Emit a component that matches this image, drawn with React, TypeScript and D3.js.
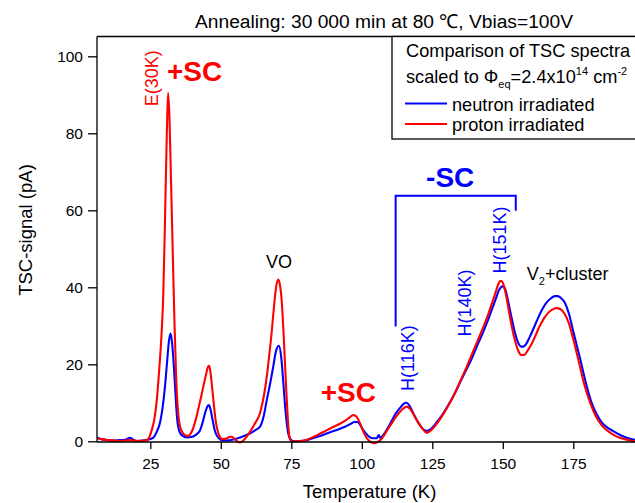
import * as d3 from 'd3'
import { useEffect, useRef } from 'react'

// TSC spectra, [temperature K, signal pA]
const neutron: [number, number][] = [
  [6, 1.0], [8, 0.5], [10, 0.3], [12, 0.2], [14, 0.3], [16, 0.4], [17.8, 0.9], [19, 0.4], [20.5, 0], [22, 0.2],
  [24, 0.4], [26, 0.9], [27.3, 2.5], [28.5, 5], [29.5, 9.5], [30.2, 14.2], [31, 21], [31.6, 26], [32.2, 28],
  [32.8, 25], [33.3, 20], [33.8, 14], [34.5, 6], [35.3, 2.6], [36.5, 1.4], [37.9, 1.0], [39.5, 1.1], [41, 1.6],
  [42.6, 2.8], [43.6, 5], [44.4, 7.3], [45.2, 9], [45.8, 9.4], [46.5, 7.8], [47.1, 5.5], [47.8, 3], [48.5, 1.6],
  [49.5, 0.7], [50.9, 0.2], [52.5, 0.2], [54, 0.4], [56, 0.8], [58, 1.3], [60.4, 2.1], [62, 2.8], [63.9, 3.8],
  [65.2, 6.5], [66.3, 10.7], [67.5, 15], [68.6, 19.4], [69.6, 23.5], [70.6, 24.8], [71.4, 22], [72.2, 15],
  [73, 7.5], [73.9, 2.1], [74.7, 0.6], [75.5, 0.1], [77, 0], [80, 0.2], [83, 0.9], [86, 1.6], [89, 2.4],
  [92, 3.2], [94, 3.8], [96, 4.5], [97.5, 5.0], [98.4, 5.0], [99.3, 4.4], [100.3, 3.2], [101.5, 2.0],
  [102.8, 1.1], [104, 0.8], [105.3, 0.8], [106, 1.6], [106.5, 0.9], [107.5, 1.5], [109, 3.2], [110.5, 5.2],
  [112, 7.2], [113.5, 8.6], [114.8, 9.7], [115.7, 10], [116.6, 9.6], [117.8, 8], [119, 6.2], [120.3, 4.5],
  [121.7, 3.2], [123, 2.7], [124.5, 3.2], [126, 4.4], [127.5, 5.8], [129, 7.4], [131, 9.8], [133, 12.5],
  [135, 15.5], [137, 18.5], [139, 21.5], [141, 25], [143, 28.3], [144.5, 31], [146, 34], [147.5, 37],
  [148.8, 39.5], [150, 40.3], [151, 39.2], [152, 36], [153, 32.5], [154.2, 28.5], [155.5, 25.5], [156.5, 24.6],
  [157.3, 24.6], [158.3, 25.3], [159.5, 27], [161, 29.5], [162.5, 32], [164, 34.3], [165.5, 36], [167, 37.1],
  [168.5, 37.7], [169.5, 37.7], [170.5, 37.3], [172, 36], [173.5, 33], [175, 28.5], [177.4, 21.5],
  [179.7, 14.5], [181.5, 10], [183.3, 7], [185, 5], [187, 3.6], [189, 2.7], [192, 1.5], [194.5, 0.8], [197, 0.4],
]

const proton: [number, number][] = [
  [6, 0.8], [8, 0.5], [10, 0.3], [12, 0.2], [14, 0.1], [16, 0.2], [18, 0.3], [20, 0.1], [22, 0.1], [24, 0.4],
  [25.5, 2.9], [26.5, 6], [27.3, 10.7], [28.2, 19], [29, 28], [29.6, 38], [30.2, 57], [30.8, 78], [31.3, 90.5],
  [31.8, 84], [32.4, 66], [33, 48], [33.6, 30], [34.2, 16], [34.8, 8], [35.5, 4], [36.5, 2.2], [37.5, 1.5],
  [38.3, 1.4], [39.1, 1.8], [40, 3], [41, 5.3], [42, 8.3], [43, 11.5], [43.8, 14.2], [44.8, 17.5], [45.5, 19.4],
  [45.9, 19.6], [46.4, 17.5], [47, 13.5], [47.6, 9], [48.3, 4.8], [49, 2.4], [49.8, 1.0], [50.8, 0.6], [52, 0.7],
  [53, 1.1], [53.9, 1.2], [54.8, 0.7], [55.8, 0], [56.8, -0.3], [58, 0.2], [59.2, 1.2], [60.4, 2.5], [62, 4.5],
  [63.9, 7.3], [65.2, 11.5], [66.3, 16.8], [67.2, 22.5], [68, 28], [68.8, 34.5], [69.6, 40], [70.4, 42],
  [71, 40.5], [71.6, 36.5], [72.2, 29], [72.8, 19.5], [73.4, 10.7], [74, 3.5], [74.5, 0.6], [75.3, -0.1],
  [77, 0], [80, 0.3], [83, 1.2], [86, 2.3], [89, 3.4], [92, 4.5], [94, 5.3], [95.5, 6.1], [97, 6.8], [98, 6.5],
  [99, 5.3], [100, 3.5], [101, 1.8], [102, 0.6], [103.2, -0.2], [104.7, -0.5], [106, 0], [107.3, 0.9],
  [108.7, 2.5], [110, 4], [111.5, 5.7], [113, 7.2], [114.5, 8.4], [115.9, 9], [117, 8.5], [118.2, 7.2],
  [119.5, 5.5], [121, 3.8], [122.3, 2.6], [123, 2.2], [124.5, 2.8], [126, 4], [127.5, 5.5], [129, 7.2],
  [131, 9.7], [133, 12.5], [135, 15.8], [137, 19], [139, 22.5], [141, 26], [143, 29.5], [144.5, 32.3],
  [146, 35.5], [147.5, 38.8], [148.5, 41], [149.2, 41.7], [150, 41.2], [151, 38.5], [152, 34.5], [153, 30.5],
  [154.2, 26.5], [155.5, 23.5], [156.5, 22.4], [157.5, 22.4], [158.5, 23.2], [160, 25], [161.5, 27.3],
  [163, 29.8], [164.5, 31.8], [166, 33.3], [167.5, 34.2], [169, 34.6], [170.5, 34.3], [172, 33], [173.5, 30.5],
  [175, 26.5], [177, 20.5], [179, 14.5], [181, 10], [183, 6.5], [185, 4.2], [187, 2.8], [189, 1.8],
  [191.5, 0.9], [194, 0.4], [197, 0],
]

const xTicks = [25, 50, 75, 100, 125, 150, 175]
const yTicks = [0, 20, 40, 60, 80, 100]
const seriesNames = ['neutron irradiated', 'proton irradiated']
const colors = ['#0000ff', '#ff0000']

const FONT = '"Liberation Sans", Arial, Helvetica, sans-serif'

const App = () => {
  const svgRef = useRef<SVGSVGElement>(null)
  const width = 635
  const height = 503
  const plotLeft = 97
  const plotTop = 36.5
  const axisY = 442

  const x = d3.scaleLinear([0, 200], [79.8, 643.8])
  const y = d3.scaleLinear([0, 100], [441.3, 56.3])

  useEffect(() => {
    const svg = d3.select(svgRef.current)
    svg.selectAll('*').remove()
    svg.attr('font-family', FONT)

    svg.append('clipPath').attr('id', 'plot-clip')
      .append('rect')
      .attr('x', plotLeft).attr('y', plotTop)
      .attr('width', width - plotLeft).attr('height', 420)

    // curves
    const line = d3.line<[number, number]>()
      .x(d => x(d[0]))
      .y(d => y(d[1]))
      .curve(d3.curveMonotoneX)
    const g = svg.append('g').attr('clip-path', 'url(#plot-clip)')
    ;[neutron, proton].forEach((data, i) => {
      g.append('path')
        .attr('fill', 'none')
        .attr('stroke', colors[i])
        .attr('stroke-width', 2.1)
        .attr('stroke-linejoin', 'round')
        .attr('d', line(data))
    })

    // frame
    const frame = svg.append('g').attr('stroke', '#000').attr('stroke-width', 1.3)
    frame.append('line').attr('x1', plotLeft).attr('x2', width).attr('y1', axisY).attr('y2', axisY)
    frame.append('line').attr('x1', plotLeft).attr('x2', plotLeft).attr('y1', plotTop).attr('y2', axisY)
    frame.append('line').attr('x1', plotLeft).attr('x2', width).attr('y1', plotTop).attr('y2', plotTop)

    // axes
    svg.append('g')
      .attr('transform', `translate(0,${axisY})`)
      .call(d3.axisBottom(x).tickValues(xTicks).tickSize(7).tickSizeOuter(0).tickPadding(9))
      .call(a => a.select('.domain').remove())
      .call(a => a.selectAll('.tick line').attr('stroke-width', 1.3))
      .call(a => a.selectAll('.tick text').attr('font-size', 15.5).attr('font-family', FONT).attr('fill', '#000'))
    svg.append('g')
      .attr('transform', `translate(${plotLeft},0)`)
      .call(d3.axisLeft(y).tickValues(yTicks).tickSize(9).tickSizeOuter(0).tickPadding(5))
      .call(a => a.select('.domain').remove())
      .call(a => a.selectAll('.tick line').attr('stroke-width', 1.3))
      .call(a => a.selectAll('.tick text').attr('font-size', 15.5).attr('font-family', FONT).attr('fill', '#000'))

    svg.append('text')
      .attr('x', 369.5).attr('y', 498)
      .attr('text-anchor', 'middle').attr('font-size', 18.5)
      .text('Temperature (K)')
    svg.append('text')
      .attr('transform', 'translate(25,230) rotate(-90)')
      .attr('text-anchor', 'middle').attr('dominant-baseline', 'central').attr('font-size', 18.5)
      .text('TSC-signal (pA)')

    // title
    svg.append('text')
      .attr('x', 384).attr('y', 28)
      .attr('text-anchor', 'middle').attr('font-size', 19.2)
      .text('Annealing: 30 000 min at 80 \u2103, Vbias=100V')

    // legend
    const lg = svg.append('g')
    lg.append('rect')
      .attr('x', 392).attr('y', plotTop).attr('width', 260).attr('height', 102.5)
      .attr('fill', '#fff').attr('stroke', '#000').attr('stroke-width', 1.3)
    lg.append('text').attr('x', 406).attr('y', 56.7).attr('font-size', 18.2)
      .text('Comparison of TSC spectra')
    const row2 = lg.append('text').attr('x', 406).attr('y', 82.7).attr('font-size', 18.2)
    row2.append('tspan').text('scaled to \u03A6')
    row2.append('tspan').attr('font-size', 11).attr('dy', 5).text('eq')
    row2.append('tspan').attr('dy', -5).text('=2.4x10')
    row2.append('tspan').attr('font-size', 11).attr('dy', -8).text('14')
    row2.append('tspan').attr('dy', 8).text(' cm')
    row2.append('tspan').attr('font-size', 11).attr('dy', -8).text('-2')
    seriesNames.forEach((name, i) => {
      const base = [110.5, 131][i]
      lg.append('line')
        .attr('x1', 405).attr('x2', 447)
        .attr('y1', base - 7).attr('y2', base - 7)
        .attr('stroke', colors[i]).attr('stroke-width', 2.1)
      lg.append('text').attr('x', 452).attr('y', base).attr('font-size', 18.2).text(name)
    })

    // annotations
    const rotLabel = (t: number, v: number, text: string, color: string) =>
      svg.append('text')
        .attr('transform', `translate(${x(t)},${y(v)}) rotate(-90)`)
        .attr('text-anchor', 'middle').attr('dominant-baseline', 'central')
        .attr('font-size', 18).attr('fill', color)
        .text(text)
    rotLabel(25.5, 94.3, 'E(30K)', colors[1])
    rotLabel(116.5, 21.6, 'H(116K)', colors[0])
    rotLabel(136.6, 35.9, 'H(140K)', colors[0])
    rotLabel(149, 52.3, 'H(151K)', colors[0])

    const bold = (t: number, v: number, text: string, color: string) =>
      svg.append('text')
        .attr('x', x(t)).attr('y', y(v))
        .attr('font-size', 28).attr('font-weight', 'bold').attr('fill', color)
        .text(text)
    bold(30.9, 93.7, '+SC', colors[1])
    bold(85.4, 10.3, '+SC', colors[1])
    bold(122.8, 66.1, '-SC', colors[0])

    svg.append('path')
      .attr('fill', 'none').attr('stroke', colors[0]).attr('stroke-width', 2)
      .attr('d', `M${x(112)},${y(29.8)}V${y(63.8)}H${x(154.6)}V${y(59.9)}`)

    svg.append('text')
      .attr('x', x(70.6)).attr('y', y(44.9))
      .attr('text-anchor', 'middle').attr('font-size', 18)
      .text('VO')
    const v2 = svg.append('text').attr('x', x(158.5)).attr('y', y(41.9)).attr('font-size', 18)
    v2.append('tspan').text('V')
    v2.append('tspan').attr('font-size', 11).attr('dy', 5).text('2')
    v2.append('tspan').attr('dy', -5).text('+cluster')
  }, [])

  return (
    <svg
      ref={svgRef}
      width={width}
      height={height}
      style={{ position: 'absolute', left: 0, top: 0, background: '#fff' }}
    />
  )
}

export default App
